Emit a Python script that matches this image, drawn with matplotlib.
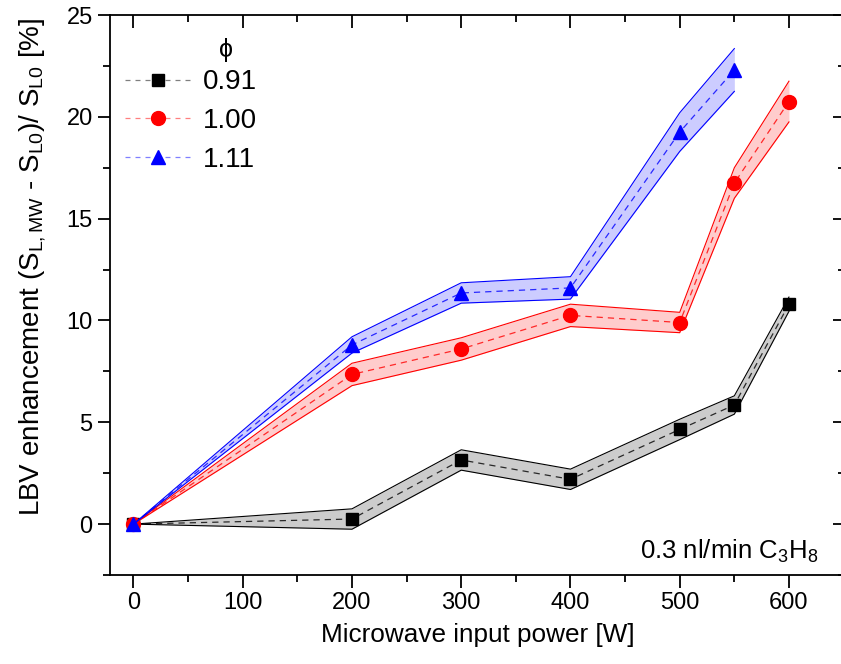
import matplotlib
matplotlib.use("Agg")
import matplotlib.pyplot as plt
from matplotlib.ticker import MultipleLocator
from matplotlib.lines import Line2D
from matplotlib.colors import to_rgba
import numpy as np

plt.rcParams['font.family'] = ['Liberation Sans', 'DejaVu Sans']
plt.rcParams['mathtext.fontset'] = 'custom'
plt.rcParams['mathtext.rm'] = 'Liberation Sans'
plt.rcParams['mathtext.it'] = 'Liberation Sans'

# microwave power [W]
power_a = [0, 200, 300, 400, 500, 550, 600]
power_b = [0, 200, 300, 400, 500, 550]

# phi = 0.91
lbv_091 = [0.0, 0.25, 3.15, 2.2, 4.65, 5.85, 10.8]
err_091 = [0.0, 0.5, 0.5, 0.5, 0.5, 0.45, 0.35]
# phi = 1.00
lbv_100 = [0.0, 7.35, 8.6, 10.25, 9.9, 16.75, 20.75]
err_100 = [0.0, 0.55, 0.55, 0.55, 0.5, 0.75, 1.0]
# phi = 1.11
lbv_111 = [0.0, 8.8, 11.35, 11.6, 19.25, 22.3]
err_111 = [0.0, 0.4, 0.5, 0.55, 0.95, 1.05]

series = [
    ("0.91", power_a, lbv_091, err_091, "black", "s", 8.5),
    ("1.00", power_a, lbv_100, err_100, "red", "o", 10),
    ("1.11", power_b, lbv_111, err_111, "blue", "^", 10),
]

fig = plt.figure(figsize=(8.41, 6.64), dpi=100)
ax = fig.add_axes([110 / 841, 0.134, 735 / 841, 0.8434])

handles = []
for label, x, y, e, c, m, ms in series:
    x = np.array(x)
    y = np.array(y)
    e = np.array(e)
    ax.fill_between(x, y - e, y + e, color=c, alpha=0.2, lw=0)
    ax.plot(x, y - e, color=c, lw=0.8)
    ax.plot(x, y + e, color=c, lw=0.8)
    ax.plot(x, y, color=c, lw=0.9, ls=(0, (5, 4)), alpha=0.8)
    ax.plot(x, y, ls="none", marker=m, color=c, ms=ms)
    handles.append(Line2D([], [], color=to_rgba(c, 0.5), lw=0.9, ls=(0, (4, 4)),
                          marker=m, ms=ms, markerfacecolor=c, markeredgecolor=c))

ax.set_xlim(-21.5, 651.3)
ax.set_ylim(-2.5, 25)
ax.xaxis.set_major_locator(MultipleLocator(100))
ax.xaxis.set_minor_locator(MultipleLocator(50))
ax.yaxis.set_major_locator(MultipleLocator(5))
ax.yaxis.set_minor_locator(MultipleLocator(2.5))

ax.tick_params(which="both", direction="out", labelsize=17, width=1.3)
ax.tick_params(which="major", length=9)
ax.tick_params(which="minor", length=5)
ax.tick_params(which="both", top=True, right=True)
for sp in ax.spines.values():
    sp.set_linewidth(1.3)

# top and right ticks point inward
for t in ax.xaxis.get_major_ticks() + ax.xaxis.get_minor_ticks():
    t.tick2line.set_marker(3)
for t in ax.yaxis.get_major_ticks() + ax.yaxis.get_minor_ticks():
    t.tick2line.set_marker(0)

ax.set_xlabel("Microwave input power [W]", fontsize=18.8, labelpad=6)
ax.set_ylabel(r"LBV enhancement (S$_{\rm L,MW}$ - S$_{\rm L0}$)/ S$_{\rm L0}$ [%]",
              fontsize=20)
ax.yaxis.set_label_coords(-0.085, 0.55)

leg = ax.legend(handles, [s[0] for s in series], loc="center left",
                bbox_to_anchor=(15 / 735, (575 - 121) / 560), frameon=False,
                fontsize=20, handlelength=2.35, handletextpad=0.45,
                labelspacing=0.46, borderpad=0, borderaxespad=0)
ax.text(85, 23.3, "ϕ", ha="center", va="center", fontsize=18)

ax.text(627, -1.7, "0.3 nl/min C$_3$H$_8$", ha="right", va="baseline",
        fontsize=18.5)

fig.savefig("out.png", dpi=100)
